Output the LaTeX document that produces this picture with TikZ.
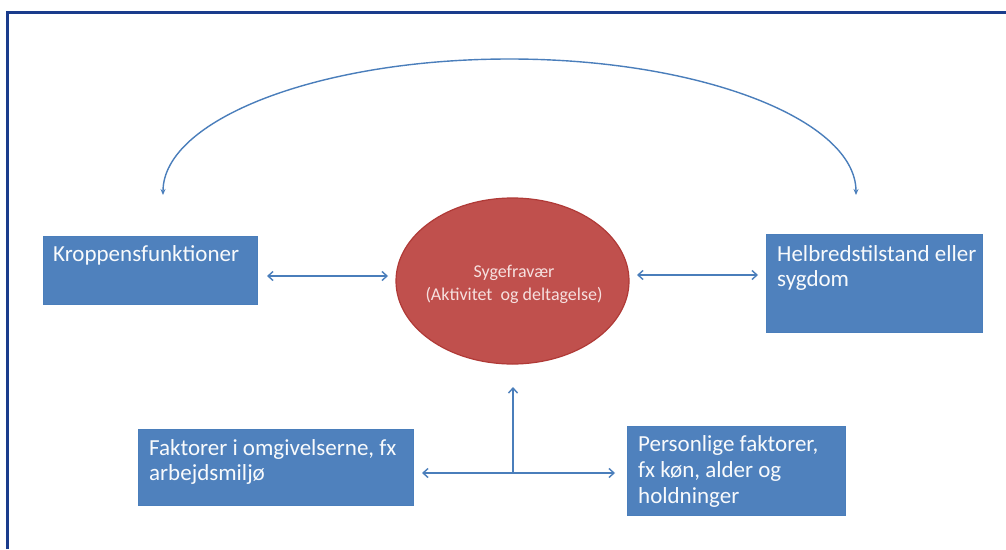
\documentclass[tikz,border=0pt]{standalone}
\usepackage{fontspec}
\setmainfont{Carlito}
\usetikzlibrary{arrows.meta,shapes.geometric}
\definecolor{frameblue}{HTML}{1A3C8C}
\definecolor{boxblue}{HTML}{4F81BD}
\definecolor{boxedge}{HTML}{4A7EBB}
\definecolor{linkblue}{HTML}{4A7EBB}
\definecolor{ellred}{HTML}{C0504D}
\definecolor{elledge}{HTML}{B03A37}
\definecolor{elltext}{HTML}{F6E0DF}
\tikzset{
  box/.style={draw=boxedge, line width=0.8pt, fill=boxblue, rectangle, inner sep=0pt},
  boxtext/.style={text=white!96!boxblue, font=\fontsize{23}{25}\selectfont, align=left, inner sep=0pt, anchor=north west},
  link/.style={draw=linkblue, line width=1.4pt, {Straight Barb[length=5pt,width=9pt]}-{Straight Barb[length=5pt,width=9pt]}},
  onelink/.style={draw=linkblue, line width=1.4pt, -{Straight Barb[length=5pt,width=9pt]}},
  arclink/.style={draw=linkblue, line width=1.4pt, {Stealth[length=6pt,width=5pt]}-{Stealth[length=6pt,width=5pt]}},
}
\begin{document}
\begin{tikzpicture}[x=1pt,y=-1pt]
\useasboundingbox (0,0) rectangle (1006,549);
\fill[white] (0,0) rectangle (1006,549);
% frame (top and left edges only are visible)
\draw[frameblue, line width=3pt] (7,549) -- (7,12) -- (1006,12);

% boxes
\node[box, minimum width=214, minimum height=68] (kf) at (150,270) {};
\node[boxtext] (kft) at (53,245.4) {Kroppensfunktioner};

\node[box, minimum width=216, minimum height=98] (hs) at (874,283) {};
\node[boxtext] (hst) at (777,245.4) {Helbredstilstand eller\\sygdom};

\node[box, minimum width=275, minimum height=76] (fo) at (275.5,467) {};
\node[boxtext] (fot) at (149,439.4) {Faktorer i omgivelserne, fx\\arbejdsmiljø};

\node[box, minimum width=218, minimum height=89] (pf) at (736,470.5) {};
\node[boxtext, font=\fontsize{23}{26}\selectfont] (pft) at (638,435.4) {Personlige faktorer,\\fx køn, alder og\\holdninger};

% central ellipse
\node[ellipse, draw=elledge, line width=1.2pt, fill=ellred, minimum width=233, minimum height=166, inner sep=0pt] (sf) at (512.5,281) {};
\node[text=elltext, font=\fontsize{18}{23}\selectfont, align=center, inner sep=0pt] (sft) at (514,284.5)
      {Sygefravær\\(Aktivitet\ \ og deltagelse)};

% horizontal links
\coordinate (l1) at (267,276);
\coordinate (l2) at (388,276);
\draw[link] (l1) -- (l2);
\coordinate (r1) at (637,275);
\coordinate (r2) at (758,275);
\draw[link] (r1) -- (r2);

% bottom T connector
\coordinate (bl) at (422,473);
\coordinate (br) at (615,473);
\coordinate (bm) at (513,473);
\coordinate (bt) at (513,387);
\draw[link] (bl) -- (br);
\draw[onelink] (bm) -- (bt);

% top arc
\coordinate (al) at (163,195);
\coordinate (ar) at (856,195);
\draw[arclink] (al) arc[start angle=180, end angle=360, x radius=346.5, y radius=136];
\end{tikzpicture}
\end{document}
